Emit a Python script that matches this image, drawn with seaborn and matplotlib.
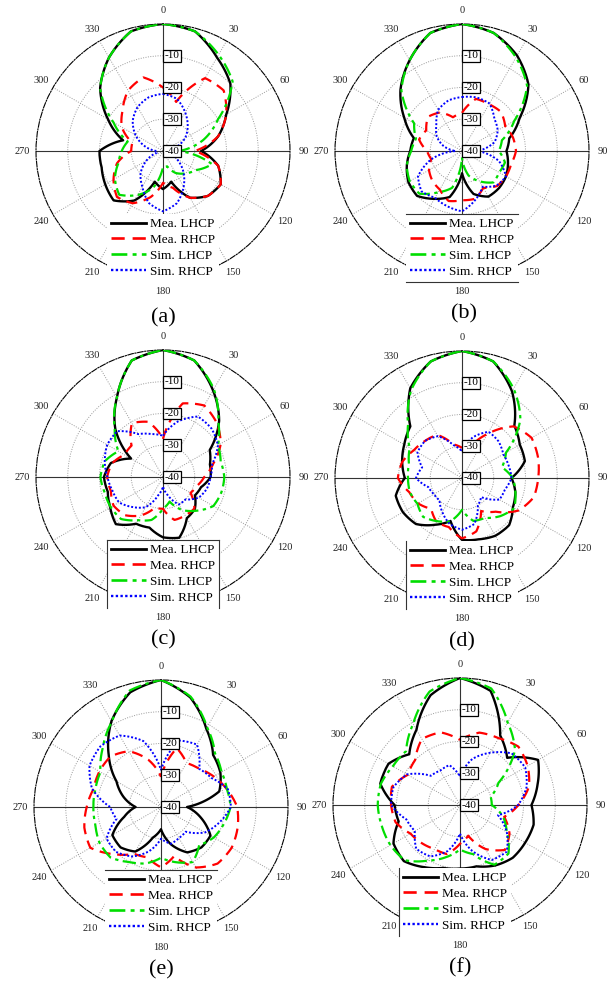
import numpy as np
import matplotlib
matplotlib.use("Agg")
import matplotlib.pyplot as plt
from matplotlib.lines import Line2D
import seaborn as sns

# ---------------- data (dB, angles clockwise from top, 15 deg steps) ----------------
ANGLES_DEG = list(range(0, 360, 15))
SERIES = ["Mea. LHCP", "Mea. RHCP", "Sim. LHCP", "Sim. RHCP"]
PANEL_LABELS = ["(a)", "(b)", "(c)", "(d)", "(e)", "(f)"]
R_LABELS = [-10, -20, -30, -40]
THETA_LABELS = list(range(0, 360, 30))

a_mea_lhcp = [0, -1, -6, -10, -17, -22, -28, -22, -19, -20, -23, -30, -28, -30, -22, -18, -19, -20, -20, -27, -20, -12, -6, -1]
a_mea_rhcp = [-20, -24, -13.5, -13, -17, -22, -30, -22, -19, -20, -23, -28, -30, -25, -21, -19.5, -22, -25, -30, -30, -25, -22, -18, -16]
a_sim_lhcp = [0, -1, -5, -9, -20, -27, -35, -24, -28, -30, -32, -35, -35, -28, -24, -20.5, -22.5, -25.5, -27, -28.5, -22, -12, -6, -1]
a_sim_rhcp = [-22, -23, -26, -29, -32, -36, -40, -38, -35, -31, -27, -23, -21, -23, -27, -30, -34, -38, -38, -34, -30, -26.5, -24, -22.5]

b_mea_lhcp = [0, -1.5, -5.3, -10.4, -19, -24.6, -26, -25, -24, -23.5, -23.4, -26, -33, -25, -22.6, -20, -20.5, -22, -23.7, -24.3, -19, -12.6, -7, -1.5]
b_mea_rhcp = [-28, -23, -23, -22.6, -24.3, -23.4, -23, -24, -24, -24.4, -26.6, -24.4, -24.5, -23.7, -26, -26.8, -28, -30, -29, -26, -27, -24.8, -26, -29]
b_sim_lhcp = [0, -1.5, -6, -11, -21, -27, -28.4, -26, -26.5, -26, -29, -32, -38, -28, -25, -21, -21, -22, -24, -25, -22.6, -13, -7, -1.5]
b_sim_rhcp = [-23, -22.5, -22.7, -25.6, -27, -29.4, -35, -28, -24, -24.6, -27, -24, -21, -22, -23, -22, -24, -30, -38, -34, -30.8, -28.6, -25, -23.5]

c_mea_lhcp = [0, -2, -8.5, -15, -23, -24.7, -25, -27.6, -28.4, -25.8, -25, -20.2, -21, -23.5, -23, -19, -20.8, -22, -21.4, -23, -28.4, -18.8, -11, -2]
c_mea_rhcp = [-28, -16, -14, -16, -19, -23.6, -27, -29, -30, -26, -26, -26, -30, -30, -26, -23, -22, -23, -22.4, -23.4, -26, -26, -20.4, -22]
c_sim_lhcp = [0, -2, -8, -15.4, -20, -21.2, -20.7, -21, -21.7, -25, -28, -32, -30, -26, -24.3, -21.3, -21, -21, -20.3, -21, -23.8, -18.5, -11, -2]
c_sim_rhcp = [-27, -21.9, -18, -18.4, -20, -24, -25, -25.7, -27, -30, -30, -34, -37, -34, -29, -26.6, -24, -23.5, -22.5, -21, -19.7, -19.6, -24.4, -26]

d_mea_lhcp = [0, -2, -8.5, -16.7, -19, -19.5, -24.4, -22.6, -21.5, -19, -19, -20, -20.5, -26, -23, -19.5, -18.5, -18.4, -22, -20.5, -19, -17, -7.4, -2]
d_mea_rhcp = [-30.5, -30, -24, -17, -14.7, -15.2, -16, -16.6, -19.5, -25, -28, -22.6, -21, -24, -24, -26.3, -24, -22.8, -19.8, -20.5, -22.5, -23.5, -24.3, -29]
d_sim_lhcp = [0, -2, -7.5, -14, -24, -27, -24, -22.6, -21, -23, -25.5, -26, -30, -25.9, -24.3, -22.7, -23.8, -23, -23, -22.7, -21, -16, -8, -2]
d_sim_rhcp = [-31.6, -26.7, -23.2, -23.7, -25, -24.8, -24.4, -26, -26.4, -31.5, -30, -25, -23.7, -25, -27.6, -30, -29.8, -29, -25.5, -27, -23.8, -23.5, -24.8, -29.2]

e_mea_lhcp = [0, -4.3, -11.5, -16.8, -18.4, -21, -31.8, -27, -22, -22, -23.5, -27.8, -33, -30, -23.8, -22, -22.3, -28, -32, -27.8, -23.8, -16.7, -8.8, -2.6]
e_mea_rhcp = [-30.5, -20.8, -24, -23, -20.8, -18.5, -16, -15, -14.3, -14.8, -18, -24, -21, -23.6, -23, -19, -14.3, -15, -16.6, -18, -17.6, -17.5, -19.7, -24.6]
e_sim_lhcp = [0, -4, -11, -16, -18, -18.5, -18.1, -19.5, -20.8, -23, -20, -22, -24, -21.6, -20, -17.5, -17.6, -18.6, -18.7, -18.6, -18, -14, -9, -2]
e_sim_rhcp = [-28.4, -18.3, -17.3, -23, -21.7, -18.2, -18, -21, -24, -29, -28.7, -28, -30, -25.6, -22, -20, -20.2, -25.5, -24, -17.5, -14, -13, -14, -18.5]

f_mea_lhcp = [0, -2.8, -14.7, -19, -11.6, -14.7, -17.5, -16, -16.3, -16.5, -18, -20, -20, -19.5, -17.4, -15, -15.8, -20, -19.4, -14, -14, -17.4, -12.6, -4.2]
f_mea_rhcp = [-19.5, -16.4, -15.7, -14, -15.4, -17.5, -21.6, -25.6, -22, -20, -24, -30, -27.8, -24, -24, -23, -22, -19, -18.3, -17.8, -21, -20, -16, -16.3]
f_sim_lhcp = [0, -2, -10, -15.5, -26, -30, -30, -26, -23, -18.4, -18.3, -24, -26, -23, -19.8, -15.4, -14.7, -14.5, -14.1, -14.2, -15.6, -16, -10.5, -3]
f_sim_rhcp = [-31, -25, -21, -17, -16.3, -18.3, -21.7, -27.6, -23, -19.2, -20, -25, -31, -25, -21.3, -20.5, -23.6, -22.5, -18.3, -18.3, -20.7, -27, -27.5, -27]

PANEL_DATA = [
    [a_mea_lhcp, a_mea_rhcp, a_sim_lhcp, a_sim_rhcp],
    [b_mea_lhcp, b_mea_rhcp, b_sim_lhcp, b_sim_rhcp],
    [c_mea_lhcp, c_mea_rhcp, c_sim_lhcp, c_sim_rhcp],
    [d_mea_lhcp, d_mea_rhcp, d_sim_lhcp, d_sim_rhcp],
    [e_mea_lhcp, e_mea_rhcp, e_sim_lhcp, e_sim_rhcp],
    [f_mea_lhcp, f_mea_rhcp, f_sim_lhcp, f_sim_rhcp],
]

# ---------------- styling / layout ----------------
plt.rcParams["font.family"] = ["Liberation Serif", "DejaVu Serif"]

STYLES = {
    "Mea. LHCP": dict(color="black", lw=1.7, linestyle="-"),
    "Mea. RHCP": dict(color="#ff0000", lw=1.6, linestyle=(0, (5, 3))),
    "Sim. LHCP": dict(color="#00dd00", lw=1.6, linestyle=(0, (6, 2, 1.5, 2))),
    "Sim. RHCP": dict(color="#0000ff", lw=1.4, linestyle=(0, (1, 1))),
}

W, H = 610, 986
R = 127
CENTERS = [(163, 151), (462, 151), (163, 477), (462, 478), (161, 807), (460, 805)]
CAPTIONS = [(163, 318), (464, 314), (163, 640), (462, 642), (161, 970), (460, 968)]
LEG_X = [0.5, 0.5, 0.5, 0.5, 0.5, 0.48]
LEG_EDGES = [[], ["top", "bottom"], ["top", "left", "right"], ["left"], ["top"], ["left"]]

fig = plt.figure(figsize=(W / 100, H / 100), dpi=100)
fig.patch.set_facecolor("white")

legends = []
for i, (cx, cy) in enumerate(CENTERS):
    ax = fig.add_axes([(cx - R) / W, (H - cy - R) / H, 2 * R / W, 2 * R / H], projection="polar")
    ax.set_theta_zero_location("N")
    ax.set_theta_direction(-1)

    theta = np.deg2rad(ANGLES_DEG + [360])
    for name, vals in zip(SERIES, PANEL_DATA[i]):
        st = STYLES[name]
        sns.lineplot(x=theta, y=list(vals) + [vals[0]], ax=ax, sort=False, estimator=None,
                     color=st["color"], lw=st["lw"], linestyle=st["linestyle"], zorder=3)
    # draw each segment following the polar grid (curved in display space)
    for ln in ax.get_lines():
        ln.get_path()._interpolation_steps = 24

    ax.set_ylim(-40, 0)
    ax.set_rticks([-30, -20, -10])
    ax.set_yticklabels([])
    ax.set_xticks(np.deg2rad(THETA_LABELS))
    ax.set_xticklabels([])
    ax.tick_params(length=0)
    ax.grid(True, color="#9a9a9a", linestyle=(0, (1, 1.5)), lw=0.7)
    ax.spines["polar"].set_linestyle((0, (5, 1.5, 1, 1.5)))
    ax.spines["polar"].set_linewidth(0.8)
    ax.set_facecolor("none")
    for t in [0, 90, 180, 270]:
        ax.axvline(np.deg2rad(t), color="#333333", lw=0.8, zorder=2)

    for v in R_LABELS:
        ax.annotate(str(v), xy=(0, v), xytext=(1.2, 0), textcoords="offset points",
                    ha="left", va="center", fontsize=8, zorder=6,
                    bbox=dict(boxstyle="square,pad=0.12", fc="white", ec="black", lw=0.9))
    for t in THETA_LABELS:
        ax.text(np.deg2rad(t), 4.3, str(t), ha="center", va="center", fontsize=7.5,
                color="#222222", clip_on=False)

    handles = [Line2D([], [], color=STYLES[s]["color"], lw=STYLES[s]["lw"] + 0.3,
                      linestyle=STYLES[s]["linestyle"]) for s in SERIES]
    leg = ax.legend(handles, SERIES, loc="upper center", bbox_to_anchor=(LEG_X[i], 0.252),
                    fontsize=9.5, frameon=True, fancybox=False, facecolor="white",
                    edgecolor="none", framealpha=1, handlelength=2.7, handletextpad=0.3,
                    labelspacing=0.28, borderpad=0.3, borderaxespad=0)
    leg.set_zorder(10)
    legends.append(leg)

    fig.text(CAPTIONS[i][0] / W, 1 - CAPTIONS[i][1] / H, PANEL_LABELS[i],
             ha="center", va="center", fontsize=16)

# partial legend frames
fig.canvas.draw()
renderer = fig.canvas.get_renderer()
for leg, edges in zip(legends, LEG_EDGES):
    bb = leg.get_window_extent(renderer).transformed(fig.transFigure.inverted())
    segs = {
        "top": ([bb.x0, bb.x1], [bb.y1, bb.y1]),
        "bottom": ([bb.x0, bb.x1], [bb.y0, bb.y0]),
        "left": ([bb.x0, bb.x0], [bb.y0, bb.y1]),
        "right": ([bb.x1, bb.x1], [bb.y0, bb.y1]),
    }
    for e in edges:
        xs, ys = segs[e]
        fig.add_artist(Line2D(xs, ys, color="#333333", lw=0.8, transform=fig.transFigure, zorder=20))

fig.savefig("out.png", dpi=100, facecolor="white")
